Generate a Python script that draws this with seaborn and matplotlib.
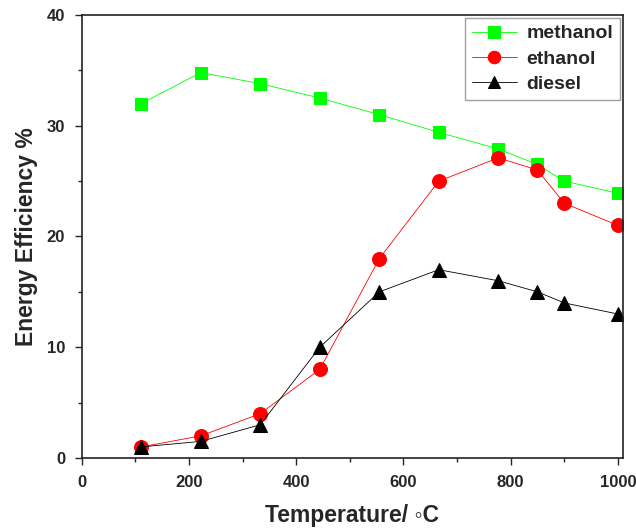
import matplotlib
matplotlib.use('Agg')
import matplotlib.pyplot as plt
import seaborn as sns
import pandas as pd
from matplotlib.ticker import MultipleLocator

# values
temperature = [111, 222, 333, 444, 555, 666, 777, 850, 900, 1000]
methanol = [32.0, 34.8, 33.8, 32.5, 31.0, 29.4, 27.9, 26.5, 25.0, 23.9]
ethanol = [1.0, 2.0, 4.0, 8.0, 18.0, 25.0, 27.1, 26.0, 23.0, 21.0]
diesel = [1.0, 1.5, 3.0, 10.0, 15.0, 17.0, 16.0, 15.0, 14.0, 13.0]

series = [
    ("methanol", methanol, "#00ff00", "s", 9),
    ("ethanol", ethanol, "#ff0000", "o", 10),
    ("diesel", diesel, "#000000", "^", 10),
]

sns.set_style("ticks")
plt.rcParams['font.family'] = ['Liberation Sans', 'DejaVu Sans']

fig = plt.figure(figsize=(6.36, 5.31), dpi=100)
ax = fig.add_axes([0.1285, 0.1375, 0.8506, 0.8343])

for name, vals, col, mk, ms in series:
    df = pd.DataFrame({"T": temperature, "E": vals})
    sns.lineplot(data=df, x="T", y="E", ax=ax, color=col, marker=mk,
                 markersize=ms, markeredgecolor=col, linewidth=0.6,
                 label=name)

ax.set_xlim(0, 1009)
ax.set_ylim(0, 40)
ax.xaxis.set_major_locator(MultipleLocator(200))
ax.xaxis.set_minor_locator(MultipleLocator(100))
ax.yaxis.set_major_locator(MultipleLocator(10))
ax.yaxis.set_minor_locator(MultipleLocator(5))
ax.tick_params(which='major', direction='out', length=5, width=1, labelsize=12, pad=7)
ax.tick_params(which='minor', direction='out', length=3, width=1)
for lab in ax.get_xticklabels() + ax.get_yticklabels():
    lab.set_fontweight('bold')

for sp in ax.spines.values():
    sp.set_visible(True)
    sp.set_color('#222222')
    sp.set_linewidth(1.2)

ax.set_xlabel("Temperature/ \u25e6C", fontsize=16.5, fontweight='bold', labelpad=10)
ax.set_ylabel("Energy Efficiency %", fontsize=16.5, fontweight='bold', labelpad=6)

leg = ax.legend(loc='upper right', fontsize=14, frameon=True, fancybox=False,
                edgecolor='#888888', borderaxespad=0.15, handlelength=2.3,
                labelspacing=0.4, borderpad=0.35, handletextpad=0.5,
                markerscale=0.9)
leg.get_frame().set_linewidth(1.0)
for t in leg.get_texts():
    t.set_fontweight('bold')

fig.savefig("out.png", dpi=100)
